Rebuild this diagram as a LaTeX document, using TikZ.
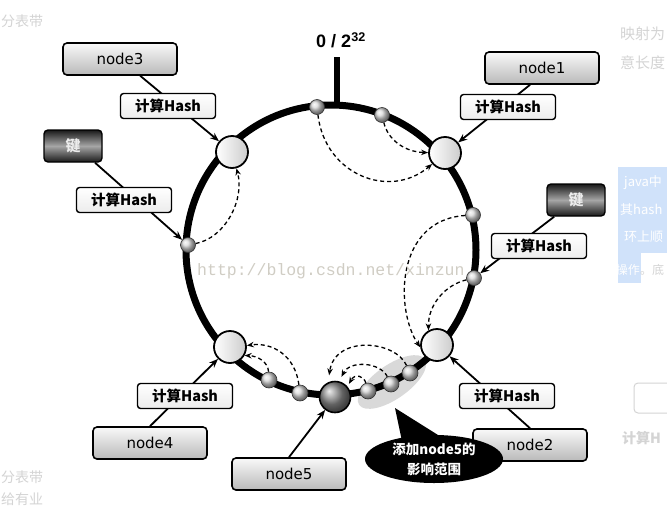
\documentclass[tikz,border=0pt]{standalone}
\usepackage{fontspec}
\setmainfont{DejaVu Sans}
\newfontfamily\cjk{Noto Sans CJK SC}
\newfontfamily\monof{Liberation Mono}
\newfontfamily\labf{Liberation Sans}
\usetikzlibrary{arrows.meta,shapes.geometric,calc}
\definecolor{hl}{RGB}{208,226,250}
\definecolor{faint}{RGB}{212,212,212}
\definecolor{wmark}{RGB}{208,205,196}
\begin{document}
\begin{tikzpicture}[x=1pt,y=-1pt,
  nodebox/.style={draw=black, line width=1.6pt, rounded corners=4pt, top color=gray!5, bottom color=gray!55, minimum width=114pt, minimum height=32pt, inner sep=0pt, font=\fontsize{15}{15}\selectfont},
  hashbox/.style={draw=black, line width=1.4pt, rounded corners=3pt, top color=white, bottom color=gray!15, minimum width=95pt, minimum height=25pt, inner sep=0pt, font=\cjk\bfseries\fontsize{14.5}{14.5}\selectfont},
  keybox/.style={draw=black, line width=1.4pt, rounded corners=4pt, top color=black!90, bottom color=black!90, middle color=gray!70, minimum width=58pt, minimum height=32pt, inner sep=0pt, text=gray!15, font=\cjk\bfseries\fontsize{15}{15}\selectfont},
  bignode/.style={circle, draw=black, line width=1.8pt, left color=white, right color=gray!40, minimum size=32pt, inner sep=0pt},
  smallball/.style={circle, draw=black!80, line width=0.6pt, shading=ball, ball color=gray!30, minimum size=15pt, inner sep=0pt},
  newnode/.style={circle, draw=black, line width=1.6pt, shading=ball, ball color=black!45, minimum size=31pt, inner sep=0pt},
  feed/.style={line width=1.8pt, -{Stealth[length=9pt,width=7pt]}},
  hop/.style={line width=1.3pt, dash pattern=on 4pt off 3pt, -{Stealth[length=7pt,width=5.5pt]}},
  faintxt/.style={anchor=west, inner sep=0pt, text=faint, font=\cjk\fontsize{14}{14}\selectfont}
]
\useasboundingbox (0,0) rectangle (667,509);
\clip (0,0) rectangle (667,509);
\fill[white] (0,0) rectangle (667,509);

% page fragments around the screenshot
\node[faintxt] (f1) at (1,21) {分表带};
\node[faintxt] (f2) at (1,477) {分表带};
\node[faintxt] (f3) at (1,499) {给有业};
\node[faintxt, font=\cjk\fontsize{15}{15}\selectfont] (f4) at (620,34) {映射为};
\node[faintxt, font=\cjk\fontsize{15}{15}\selectfont] (f5) at (620,63) {意长度};
\fill[hl] (618,167) rectangle (667,253);
\fill[hl] (618,253) rectangle (641,283);
\node[anchor=west, inner sep=0pt, text=white, font=\cjk\fontsize{13}{13}\selectfont] (h1) at (624,183) {java中};
\node[anchor=west, inner sep=0pt, text=white, font=\cjk\fontsize{13}{13}\selectfont] (h2) at (620,210) {其hash};
\node[anchor=west, inner sep=0pt, text=white, font=\cjk\fontsize{13}{13}\selectfont] (h3) at (624,237) {环上顺};
\node[anchor=east, text=white, font=\cjk\fontsize{12}{12}\selectfont, inner sep=0pt] (h4) at (640,270) {操作};
\node[anchor=west, text=faint, font=\cjk\fontsize{12}{12}\selectfont, inner sep=0pt] (h5) at (640,270) {。底};
\draw[faint, line width=1pt, rounded corners=4pt] (634,383) rectangle (700,413);
\node[faintxt, font=\cjk\bfseries\fontsize{14}{14}\selectfont] (f6) at (622,438) {计算H};

% affected range
\node[ellipse, fill=gray!30, minimum width=80pt, minimum height=34pt, rotate=35] (zone) at (392,382) {};

% ring and zero mark
\draw[line width=7pt] (331,250) circle[radius=145];
\draw[line width=6pt] (337,57) -- (337,106);
\node[font=\labf\bfseries\fontsize{18}{18}\selectfont] (zero) at (341,40) {0 / 2\textsuperscript{32}};

% outer boxes
\node[nodebox] (box3) at (120,59) {node3};
\node[nodebox] (box1) at (542,68) {node1};
\node[nodebox] (box4) at (150,443) {node4};
\node[nodebox] (box5) at (289,474) {node5};
\node[nodebox] (box2) at (530,445) {node2};
\node[keybox] (keyL) at (73,146) {键};
\node[keybox] (keyR) at (576,200) {键};

% ring nodes
\node[bignode] (n3) at (232,152) {};
\node[bignode] (n1) at (445,153) {};
\node[bignode] (n4) at (230,347) {};
\node[bignode] (n2) at (437,345) {};
\node[newnode] (n5) at (335,397) {};
\node[smallball] (bA) at (317,107) {};
\node[smallball] (bB) at (382,115) {};
\node[smallball] (bC) at (188,245) {};
\node[smallball] (bD) at (473,215) {};
\node[smallball] (bE) at (474,278) {};
\node[smallball, minimum size=16pt] (bF) at (269,380) {};
\node[smallball, minimum size=16pt] (bG) at (300,393) {};
\node[smallball, minimum size=16pt] (bH) at (368,391) {};
\node[smallball, minimum size=16pt] (bI) at (391,384) {};
\node[smallball, minimum size=16pt] (bJ) at (410,373) {};

% dashed moves to the next node clockwise
\draw[hop] (bA) .. controls (325,175) and (390,200) .. (n1);
\draw[hop] (bB) .. controls (388,140) and (405,152) .. (n1);
\draw[hop] (bC) .. controls (225,238) and (245,200) .. (n3);
\draw[hop] (bD) .. controls (395,220) and (395,310) .. (n2.188);
\draw[hop] (bE) .. controls (445,285) and (428,305) .. (n2.120);
\draw[hop] (bG) .. controls (295,355) and (272,342) .. (n4.5);
\draw[hop] (bF) .. controls (268,362) and (258,356) .. (n4.-30);
\draw[hop, shorten >=7pt] (bJ) .. controls (395,340) and (335,335) .. (n5.115);
\draw[hop, shorten >=5pt] (bI) .. controls (380,362) and (350,360) .. (n5.75);
\draw[hop, shorten >=3pt] (bH) .. controls (364,376) and (355,373) .. (n5.40);

% hash feeds
\draw[feed] (box3) -- (n3);
\draw[feed] ([xshift=22pt]keyL.south) -- (bC);
\draw[feed] ([xshift=-12pt]box1.south) -- (n1);
\draw[feed] (keyR) -- (bE);
\draw[feed] (box2.north) -- (n2);
\draw[feed] (box4.north) -- (n4);
\draw[feed] (box5.north) -- (n5);

% hash boxes
\node[hashbox] (hash3) at (168,106) {计算Hash};
\node[hashbox] (hashL) at (124,200) {计算Hash};
\node[hashbox] (hash1) at (508,107) {计算Hash};
\node[hashbox] (hashR) at (539,246) {计算Hash};
\node[hashbox] (hash4) at (185,396) {计算Hash};
\node[hashbox] (hash2) at (507,396) {计算Hash};

% callout
\fill[black] (395,408) -- (403,446) -- (446,440) -- cycle;
\node[ellipse, fill=black, minimum width=138pt, minimum height=48pt, inner sep=0pt, text=white, align=center, font=\cjk\bfseries\fontsize{13.5}{20}\selectfont] (call) at (434,459) {添加node5的\\影响范围};

% watermark
\node[anchor=west, text=wmark, font=\monof\fontsize{16.5}{16.5}\selectfont, inner sep=0pt] (wm) at (197,271) {http://blog.csdn.net/xinzun};
\end{tikzpicture}
\end{document}
